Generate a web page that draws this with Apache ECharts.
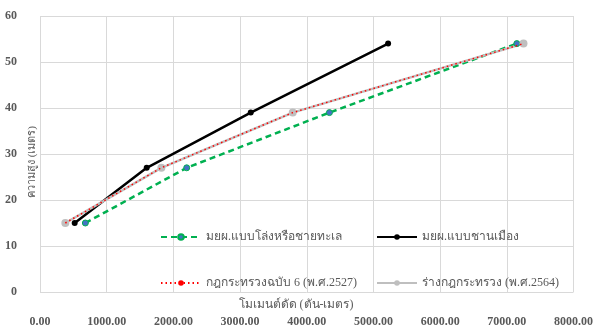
<!DOCTYPE html>
<html>
<head>
<meta charset="utf-8">
<script src="https://cdn.jsdelivr.net/npm/echarts@6/dist/echarts.min.js"></script>
<style>html,body{margin:0;padding:0;background:#fff}#c{width:596px;height:328px}</style>
</head>
<body>
<div id="c"></div>
<script>
const seriesNames = ['มยผ.แบบโล่งหรือชายทะเล', 'มยผ.แบบชานเมือง', 'กฎกระทรวงฉบับ 6 (พ.ศ.2527)', 'ร่างกฎกระทรวง (พ.ศ.2564)'];
const openCoastal = [[680, 15], [2200, 27], [4340, 39], [7150, 54]];
const suburban = [[520, 15], [1600, 27], [3160, 39], [5220, 54]];
const regulation2527 = [[380, 15], [1820, 27], [3790, 39], [7250, 54]];
const draft2564 = [[380, 15], [1820, 27], [3790, 39], [7250, 54]];
const xAxisTitle = 'โมเมนต์ดัด (ตัน-เมตร)';
const yAxisTitle = 'ความสูง (เมตร)';

const FONT = "'Liberation Serif', 'DejaVu Serif', serif";
const TXT = '#595959';
const chart = echarts.init(document.getElementById('c'), null, {renderer: 'canvas'});
function lg(name, left, top, extra) {
  return {data: [Object.assign({name: name}, extra || {})], left: left, top: top, itemWidth: 40, itemHeight: 7, itemGap: 0,
    textStyle: {fontFamily: FONT, fontSize: 12, color: TXT}, padding: 0};
}
chart.setOption({
  animation: false,
  grid: {left: 40, right: 21, top: 16, bottom: 34},
  legend: [
    lg(seriesNames[0], 160, 231),
    lg(seriesNames[1], 376, 231),
    lg(seriesNames[2], 160, 277, {itemStyle: {opacity: 1, color: '#ff0000'}}),
    lg(seriesNames[3], 376, 277)
  ],
  xAxis: {
    type: 'value', min: 0, max: 8000, interval: 1000,
    axisLine: {show: false}, axisTick: {show: false},
    splitLine: {show: true, lineStyle: {color: '#d9d9d9', width: 1}},
    axisLabel: {formatter: v => v.toFixed(2), fontFamily: FONT, fontSize: 12, fontWeight: 'bold', color: TXT, margin: 24}
  },
  yAxis: {
    type: 'value', min: 0, max: 60, interval: 10,
    axisLine: {show: false}, axisTick: {show: false},
    splitLine: {show: true, lineStyle: {color: '#d9d9d9', width: 1}},
    axisLabel: {fontFamily: FONT, fontSize: 12, fontWeight: 'bold', color: TXT, margin: 23}
  },
  graphic: [
    {type: 'text', position: [296, 305], style: {text: xAxisTitle, font: "12px " + FONT, fill: TXT, textAlign: 'center', textVerticalAlign: 'middle'}},
    {type: 'text', position: [32, 162], rotation: Math.PI / 2, style: {text: yAxisTitle, font: "11px " + FONT, fill: TXT, textAlign: 'center', textVerticalAlign: 'middle'}}
  ],
  series: [
    {name: seriesNames[0], type: 'line', data: openCoastal, symbol: 'circle', symbolSize: 6,
      lineStyle: {color: '#00b050', width: 2.5, type: [6, 4]}, itemStyle: {color: '#4472c4', borderColor: '#00b050', borderWidth: 1}},
    {name: seriesNames[1], type: 'line', data: suburban, symbol: 'circle', symbolSize: 6,
      lineStyle: {color: '#000000', width: 2.5}, itemStyle: {color: '#000000'}},
    {name: seriesNames[3], type: 'line', data: draft2564, symbol: 'circle', symbolSize: 8, z: 3,
      lineStyle: {color: '#bfbfbf', width: 2.5}, itemStyle: {color: '#bfbfbf'}},
    {name: seriesNames[2], type: 'line', data: regulation2527, symbol: 'circle', symbolSize: 8, z: 4,
      lineStyle: {color: '#ff0000', width: 1.5, type: [1.5, 3]}, itemStyle: {color: '#ff0000', opacity: 0}}
  ]
});
</script>
</body>
</html>
